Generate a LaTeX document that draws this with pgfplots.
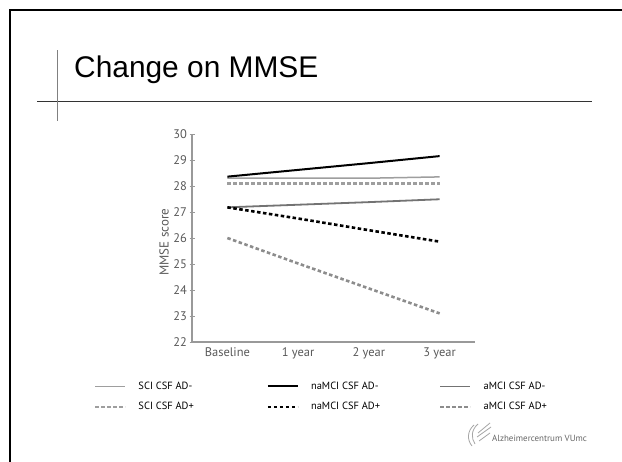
\documentclass[border=0pt]{standalone}
\usepackage{fontspec}
\setmainfont{PT Sans}
\newfontfamily\titlefont{Liberation Sans}
\usepackage{pgfplots}
\pgfplotsset{compat=1.18}
\definecolor{lightln}{gray}{0.62}
\definecolor{midln}{gray}{0.45}
\definecolor{dashln}{gray}{0.55}
\definecolor{axisgray}{gray}{0.6}
\definecolor{labelgray}{gray}{0.35}

\begin{document}
\begin{tikzpicture}
% slide frame
\path[use as bounding box] (0,0) rectangle (622bp,-462bp);
\fill[white] (0,0) rectangle (622bp,-462bp);
\draw[black, line width=2bp] (10bp,-463bp) -- (10bp,-10bp) -- (623bp,-10bp);
\draw[black!80, line width=0.9bp] (37bp,-101bp) -- (592bp,-101bp);
\draw[gray, line width=0.9bp] (57bp,-50bp) -- (57bp,-121bp);
\node[anchor=base west, inner sep=0pt, font=\titlefont\fontsize{30}{32}\selectfont]
  at (74bp,-77bp) {Change on MMSE};

\begin{axis}[
    at={(192bp,-342bp)}, anchor=south west,
    scale only axis,
    width=283bp, height=208bp,
    xmin=-0.5, xmax=3.5,
    ymin=22, ymax=30,
    axis x line*=bottom,
    axis y line*=left,
    axis line style={-, draw=axisgray, line width=2bp},
    xtick={0,1,2,3},
    xticklabels={Baseline,1 year,2 year,3 year},
    x tick style={draw=none},
    ytick={22,23,...,30},
    y tick style={draw=axisgray, line width=1bp},
    tick align=center,
    major tick length=5bp,
    tick label style={font=\fontsize{12.5}{13}\selectfont, text=labelgray},
    yticklabel style={xshift=1bp},
    /pgf/number format/assume math mode=true,
    ylabel={MMSE score},
    ylabel style={font=\fontsize{13}{14}\selectfont, text=labelgray,
        at={(axis description cs:-0.099,0.48)}, anchor=center},
    clip=false,
    legend columns=3,
    legend style={
        at={(axis description cs:-0.346,-0.19)}, anchor=north west,
        draw=none, fill=none, inner sep=0pt,
        font=\fontsize{10.5}{11}\selectfont,
        nodes={inner sep=0pt, text height=7.5bp, text depth=2bp},
        row sep=11bp,
        /tikz/every odd column/.style={column sep=12bp},
        /tikz/every even column/.style={column sep=16bp},
    },
    legend cell align=left,
    legend image code/.code={\draw[#1] (0bp,0bp) -- (30bp,0bp);},
]
% SCI CSF AD-
\addplot[lightln, line width=1.5bp] coordinates {(0,28.3) (1,28.3) (2,28.3) (3,28.35)};
\addlegendentry{\makebox[112bp][l]{SCI CSF AD-}}
% naMCI CSF AD-
\addplot[black, line width=2bp] coordinates {(0,28.36) (1,28.62) (2,28.88) (3,29.15)};
\addlegendentry{\makebox[112bp][l]{naMCI CSF AD-}}
% aMCI CSF AD-
\addplot[midln, line width=1.8bp] coordinates {(0,27.18) (1,27.28) (2,27.38) (3,27.49)};
\addlegendentry{\makebox[112bp][l]{aMCI CSF AD-}}
% SCI CSF AD+
\addplot[lightln, line width=2.2bp, dash pattern=on 3.5bp off 2.5bp] coordinates {(0,28.1) (1,28.1) (2,28.1) (3,28.1)};
\addlegendentry{\makebox[112bp][l]{SCI CSF AD+}}
% naMCI CSF AD+
\addplot[black, line width=2.6bp, dash pattern=on 3.5bp off 2.5bp] coordinates {(0,27.18) (1,26.75) (2,26.3) (3,25.86)};
\addlegendentry{\makebox[112bp][l]{naMCI CSF AD+}}
% aMCI CSF AD+
\addplot[dashln, line width=2.6bp, dash pattern=on 3.5bp off 2.5bp] coordinates {(0,26.0) (1,25.02) (2,24.06) (3,23.1)};
\addlegendentry{\makebox[112bp][l]{aMCI CSF AD+}}
\end{axis}

% logo
\begin{scope}[draw=gray!70, line width=0.8bp]
\draw (474bp,-425bp) .. controls (467bp,-431bp) and (467bp,-440bp) .. (472bp,-446bp);
\draw (478bp,-424bp) .. controls (471bp,-430bp) and (471bp,-438bp) .. (475bp,-444bp);
\draw (478bp,-433bp) -- (490bp,-423bp);
\draw (477bp,-437bp) -- (491bp,-427bp);
\draw (479bp,-441bp) -- (490bp,-433bp);
\end{scope}
\node[anchor=base west, inner sep=0pt, text=gray!80!black, font=\fontsize{9}{10}\selectfont]
  at (492bp,-441bp) {Alzheimercentrum VUmc};
\end{tikzpicture}
\end{document}
